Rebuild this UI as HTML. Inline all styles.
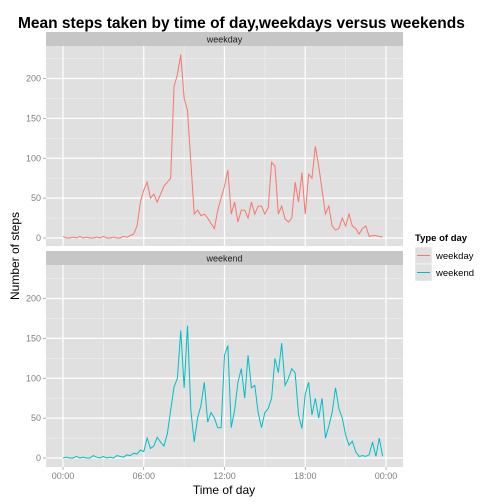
<!DOCTYPE html>
<html><head><meta charset="utf-8"><style>
body{margin:0;background:#fff;}
svg{display:block;font-family:"Liberation Sans",sans-serif;}
</style></head><body>
<svg id="c" width="504" height="504" viewBox="0 0 504 504">
<text x="18" y="28" font-size="15.5" font-weight="bold" fill="#000">Mean steps taken by time of day,weekdays versus weekends</text>
<g id="panels"></g>
<text x="224" y="494" font-size="12" text-anchor="middle">Time of day</text>
<text transform="translate(19,256) rotate(-90)" font-size="12" text-anchor="middle">Number of steps</text>
<g>
<text x="415" y="241" font-size="9.5" font-weight="bold">Type of day</text>
<g>
<rect x="415" y="247" width="17" height="17" fill="#e0e0e0" stroke="#fff" stroke-width="0.5"/>
<line x1="417" y1="255.5" x2="430" y2="255.5" stroke="#F8766D" stroke-width="1"/>
<text x="436" y="259" font-size="9.5">weekday</text></g>
<g>
<rect x="415" y="264" width="17" height="17" fill="#e0e0e0" stroke="#fff" stroke-width="0.5"/>
<line x1="417" y1="272.5" x2="430" y2="272.5" stroke="#00BFC4" stroke-width="1"/>
<text x="436" y="276" font-size="9.5">weekend</text></g>
</g>
</svg>
<script>
const minutes = Array.from({length:96},(_,i)=>i*15);
const weekdaySteps = [2,0,0,1,0,2,0,1,0,0,1,0,2,0,0,1,0,0,2,1,
3,5,15,45,60,70,50,55,45,55,65,70,75,190,205,230,175,160,95,30,
35,28,30,25,18,12,35,50,65,85,30,45,20,35,35,25,45,30,40,40,
30,38,95,90,30,40,24,20,25,70,45,82,30,80,75,115,90,60,30,40,
15,10,12,25,15,30,15,12,5,12,15,2,3,3,2,1];
const weekendSteps = [0,1,0,0,2,0,1,0,0,3,1,0,2,0,1,0,3,2,1,4,
3,6,5,10,8,25,12,15,26,20,15,30,60,89,100,160,88,166,60,20,
50,66,95,45,57,50,38,38,129,141,38,60,95,112,75,129,88,91,57,38,
57,62,75,125,107,144,91,100,112,107,54,37,80,95,54,75,50,75,25,40,
57,88,62,50,29,16,21,8,2,3,2,4,20,2,25,2];
const xTicks = [0,360,720,1080,1440];
const xTickLabels = ["00:00","06:00","12:00","18:00","00:00"];
const yTicks = [0,50,100,150,200];
const NS="http://www.w3.org/2000/svg";
const X0=46,X1=403;
const x = m => 63 + m*(386-63)/1440;
function mk(tag,attrs,parent){const e=document.createElementNS(NS,tag);for(const k in attrs)e.setAttribute(k,attrs[k]);parent.appendChild(e);return e;}
const g=document.getElementById('panels');
const panels=[
 {name:'weekday',sy:32,top:46,bot:246,zeroY:238,vals:weekdaySteps,color:'#F8766D'},
 {name:'weekend',sy:251,top:265,bot:467,zeroY:458,vals:weekendSteps,color:'#00BFC4'}];
const scale=(200*0.7975);
panels.forEach((p,pi)=>{
 const y=v=>p.zeroY - v*scale/200;
 const st=mk('rect',{x:X0,y:p.sy,width:X1-X0,height:p.top-p.sy,fill:'#c6c6c6'},g);
 
 
 const stt=mk('text',{x:(X0+X1)/2,y:p.sy+10.5,'font-size':9,'text-anchor':'middle',fill:'#1a1a1a'},g);
 stt.textContent=p.name;
 
 
 const bg=mk('rect',{x:X0,y:p.top,width:X1-X0,height:p.bot-p.top,fill:'#e0e0e0'},g);
 
 
 for(let k=-1;k<5;k++){const v=k*50+25; if(y(v)>p.top&&y(v)<p.bot){const l=mk('line',{x1:X0,x2:X1,y1:y(v),y2:y(v),stroke:'#f0f0f0','stroke-width':0.6},g);}}
 for(let k=0;k<4;k++){const m=k*360+180;const l=mk('line',{x1:x(m),x2:x(m),y1:p.top,y2:p.bot,stroke:'#f0f0f0','stroke-width':0.6},g);}
 yTicks.forEach(v=>{
  const l=mk('line',{x1:X0,x2:X1,y1:y(v),y2:y(v),stroke:'#fff','stroke-width':1.2},g);
  
  
  const t=mk('text',{x:41,y:y(v)+3,'font-size':9,'text-anchor':'end',fill:'#7f7f7f'},g);
  t.textContent=v;
  
  
  mk('line',{x1:43,x2:46,y1:y(v),y2:y(v),stroke:'#7f7f7f','stroke-width':0.6},g);
 });
 xTicks.forEach(m=>{
  const l=mk('line',{x1:x(m),x2:x(m),y1:p.top,y2:p.bot,stroke:'#fff','stroke-width':1.2},g);
  
  
 });
 const d=p.vals.map((v,i)=>(i?'L':'M')+x(minutes[i]).toFixed(2)+','+y(v).toFixed(2)).join('');
 const path=mk('path',{d:d,fill:'none',stroke:p.color,'stroke-width':1},g);
 
 
});
xTicks.forEach((m,i)=>{
 mk('line',{x1:x(m),x2:x(m),y1:467,y2:470,stroke:'#7f7f7f','stroke-width':0.6},g);
 const t=mk('text',{x:x(m),y:479,'font-size':9,'text-anchor':'middle',fill:'#7f7f7f'},g);
 t.textContent=xTickLabels[i];
 
 
});
</script>
</body></html>
